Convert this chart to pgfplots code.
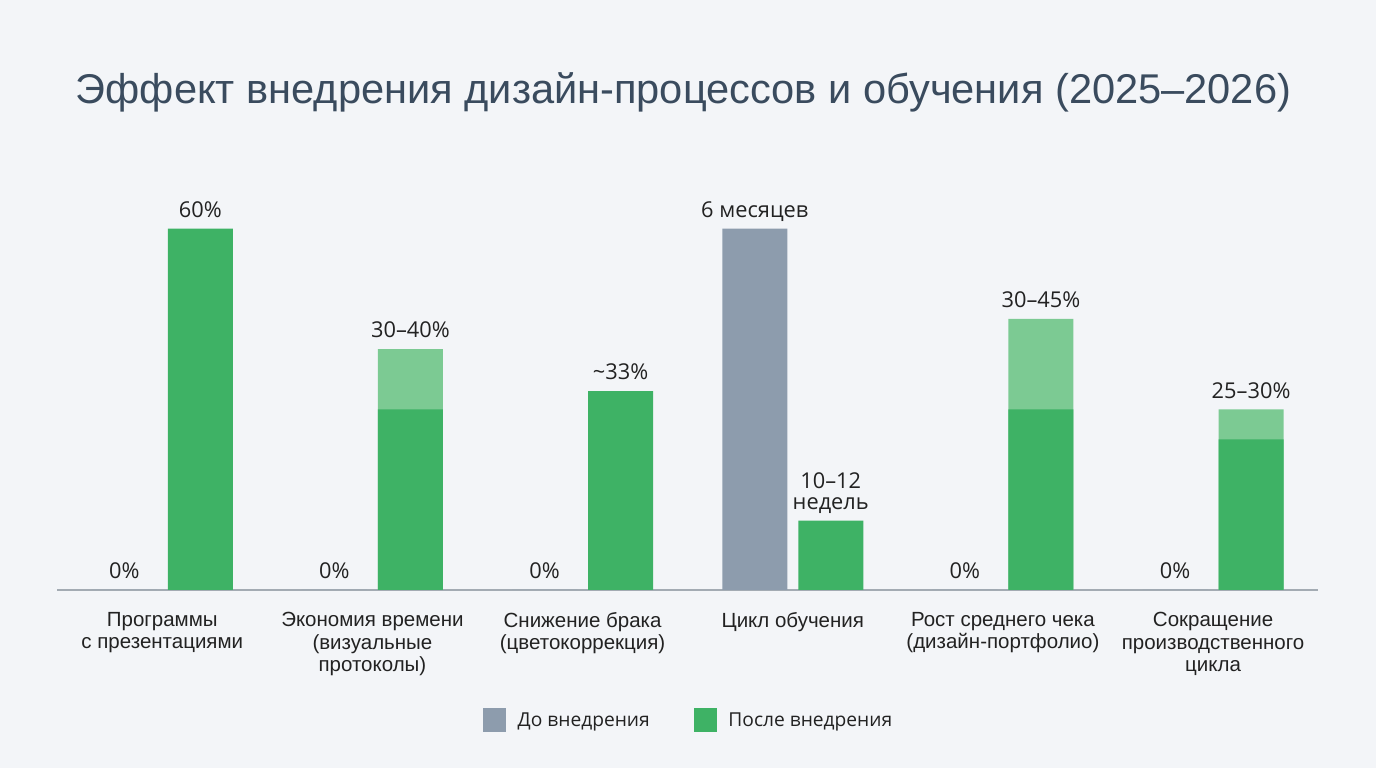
\documentclass[border=0pt]{standalone}
\usepackage{pgfplots}
\pgfplotsset{compat=1.18}
\usepackage{fontspec}
\setmainfont{Liberation Sans}
\newfontfamily\valfont{Open Sans}

\definecolor{bgc}{HTML}{F3F5F8}
\definecolor{titlec}{HTML}{3A4B5E}
\definecolor{greyc}{HTML}{8D9CAD}
\definecolor{greenc}{HTML}{3EB265}
\definecolor{lightg}{HTML}{7CCA93}
\definecolor{axisc}{HTML}{A3ABB3}
\definecolor{textc}{HTML}{222222}

\pgfplotsset{
  barbase/.style={
    ybar, bar width=65pt, draw=none,
    nodes near coords, point meta=explicit symbolic,
    every node near coord/.append style={
      font=\valfont\fontsize{21.8}{21}\selectfont, text=textc,
      inner sep=0pt, text depth=0pt, yshift=11pt, align=center,
      anchor=south},
  },
  sqlegend/.style={
    legend image code/.code={\fill[##1,draw=none] (0pt,-11.7pt) rectangle (23pt,11.7pt);}
  },
}

\begin{document}
\begin{tikzpicture}
\fill[bgc] (0,0) rectangle (1376pt,768pt);
\node[anchor=base, font=\fontsize{41.6}{44}\selectfont, text=titlec, inner sep=0pt]
  at (683.4pt,664.7pt) {Эффект внедрения дизайн-процессов и обучения (2025–2026)};
\begin{axis}[
  at={(57.2pt,178pt)}, anchor=south west,
  scale only axis, width=1261pt, height=391.6pt,
  xmin=-0.5, xmax=5.5, ymin=0, ymax=65,
  clip=false,
  axis x line=bottom, axis y line=none,
  x axis line style={-, draw=axisc, line width=1.5pt},
  major tick length=0pt, xtick style={draw=none},
  xtick={0,1,2,3,4,5},
  xticklabels={{Программы\\с презентациями},
               {Экономия времени\\(визуальные\\протоколы)},
               {Снижение брака\\(цветокоррекция)},
               {Цикл обучения},
               {Рост среднего чека\\(дизайн-портфолио)},
               {Сокращение\\производственного\\цикла}},
  xticklabel style={align=center, anchor=north, inner sep=0pt, yshift=-22pt,
    font=\fontsize{20.5}{22.5}\selectfont, text=textc},
  legend columns=2,
  legend style={at={(0.5,-0.332)}, anchor=center, draw=none, fill=none,
    inner sep=0pt, nodes={inner sep=0pt},
    font=\valfont\fontsize{19.2}{22}\selectfont, text=textc,
    /tikz/every odd column/.append style={column sep=11.6pt},
    /tikz/every even column/.append style={column sep=44pt}},
]
% before: grey bars
\addplot[barbase, bar shift=-38pt, fill=greyc, sqlegend,
  every node near coord/.append style={xshift=-38pt}]
  coordinates {(0,0)[0\%] (1,0)[0\%] (2,0)[0\%] (3,60)[6 месяцев] (4,0)[0\%] (5,0)[0\%]};
\addlegendentry{До внедрения}
% upper end of the ranges: light green
\addplot[barbase, bar shift=38pt, fill=lightg, forget plot,
  every node near coord/.append style={xshift=38pt}]
  coordinates {(1,40)[30–40\%] (4,45)[30–45\%] (5,30)[25–30\%]};
% after: green bars
\addplot[barbase, bar shift=38pt, fill=greenc, sqlegend,
  every node near coord/.append style={xshift=38pt}]
  coordinates {(0,60)[60\%] (1,30)[] (2,33)[\textasciitilde33\%] (3,11.5)[{10–12\\недель}] (4,30)[] (5,25)[]};
\addlegendentry{После внедрения}
\end{axis}
\end{tikzpicture}
\end{document}
